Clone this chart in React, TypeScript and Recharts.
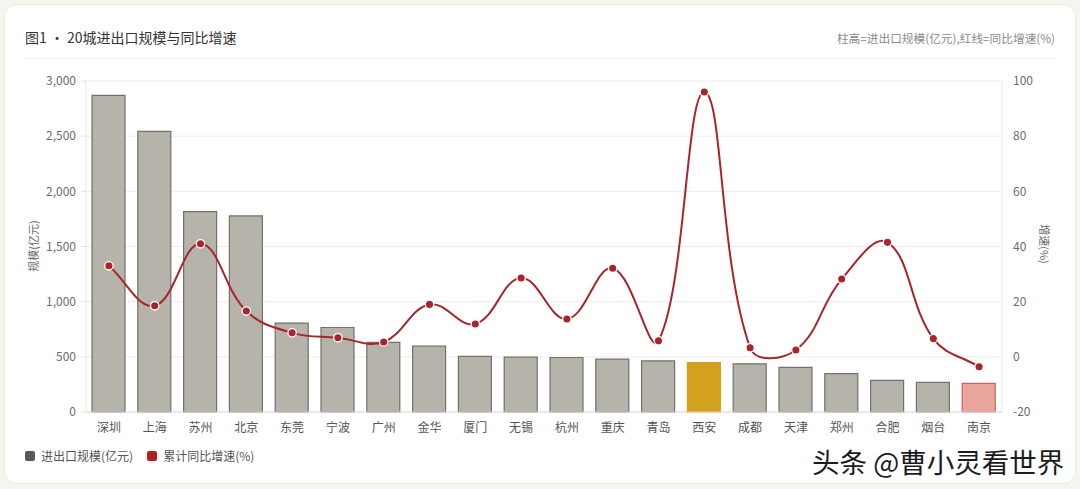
import React from "react";
import { Bar, Cell, ComposedChart, CartesianGrid, Line, XAxis, YAxis } from "recharts";

const cities = ["深圳", "上海", "苏州", "北京", "东莞", "宁波", "广州", "金华", "厦门", "无锡", "杭州", "重庆", "青岛", "西安", "成都", "天津", "郑州", "合肥", "烟台", "南京"];
const scaleValues = [2870, 2543, 1816, 1777, 806, 766, 631, 597, 505, 497, 494, 479, 463, 448, 437, 404, 347, 287, 269, 260];
const growthValues = [33.0, 18.5, 41.0, 16.6, 8.7, 6.9, 5.4, 19.0, 11.9, 28.6, 13.7, 32.1, 5.8, 96.0, 3.3, 2.5, 28.2, 41.5, 6.6, -3.6];
const leftTicks = [0, 500, 1000, 1500, 2000, 2500, 3000];
const rightTicks = [-20, 0, 20, 40, 60, 80, 100];

const data = cities.map((city, i) => ({ city, scale: scaleValues[i], growth: growthValues[i] }));

const FONT = '"Noto Sans CJK SC", "Noto Sans", sans-serif';
const LINE_RED = "#a8262b";

// distance-weighted spline (tension 0.4), control points split by segment length
function weightedSpline(context: any) {
  let pts: [number, number][] = [];
  const t = 0.4;
  return {
    areaStart() {},
    areaEnd() {},
    lineStart() {
      pts = [];
    },
    point(x: number, y: number) {
      pts.push([+x, +y]);
    },
    lineEnd() {
      const n = pts.length;
      if (!n) return;
      const cpIn: [number, number][] = [];
      const cpOut: [number, number][] = [];
      for (let i = 0; i < n; i++) {
        const p = pts[i];
        const prev = pts[i - 1] ?? p;
        const next = pts[i + 1] ?? p;
        const d01 = Math.hypot(p[0] - prev[0], p[1] - prev[1]);
        const d12 = Math.hypot(next[0] - p[0], next[1] - p[1]);
        const sum = d01 + d12 || 1;
        const fa = (t * d01) / sum;
        const fb = (t * d12) / sum;
        const vx = next[0] - prev[0];
        const vy = next[1] - prev[1];
        cpIn.push([p[0] - fa * vx, p[1] - fa * vy]);
        cpOut.push([p[0] + fb * vx, p[1] + fb * vy]);
      }
      context.moveTo(pts[0][0], pts[0][1]);
      for (let i = 0; i < n - 1; i++) {
        context.bezierCurveTo(cpOut[i][0], cpOut[i][1], cpIn[i + 1][0], cpIn[i + 1][1], pts[i + 1][0], pts[i + 1][1]);
      }
    },
  };
}

function barFill(city: string) {
  if (city === "西安") return "#d4a11e";
  if (city === "南京") return "#e9a69f";
  return "#b6b3ab";
}

function barStroke(city: string) {
  if (city === "西安") return "#d4a11e";
  if (city === "南京") return "#d0605a";
  return "#74716b";
}

function GrowthDot(props: any) {
  const { cx, cy } = props;
  if (cx == null || cy == null) return null;
  return <circle cx={cx} cy={cy} r={4.2} fill={LINE_RED} stroke="#fff" strokeWidth={1.3} />;
}

export default function App() {
  const tickStyle = { fill: "#6b6b6b", fontSize: 12, fontFamily: FONT };
  return (
    <div style={{ position: "absolute", left: 0, top: 0, width: 1080, height: 489, background: "#f6f5f0", fontFamily: FONT }}>
      <div style={{ position: "absolute", left: 4, top: 4, width: 1070, height: 478, background: "#fff", border: "1px solid #ebe8e0", borderRadius: 12 }} />
      <div style={{ position: "absolute", left: 25, top: 27, fontSize: 14, color: "#333" }}>图1 · 20城进出口规模与同比增速</div>
      <div style={{ position: "absolute", right: 25, top: 29, fontSize: 11.7, color: "#8a8a8a" }}>柱高=进出口规模(亿元),红线=同比增速(%)</div>
      <div style={{ position: "absolute", left: 25, top: 58, width: 1030, height: 1, background: "#f0efea" }} />

      <div style={{ position: "absolute", left: 0, top: 0 }}>
        <ComposedChart width={1080} height={489} data={data} margin={{ top: 81, right: 0, bottom: 47, left: 0 }} barSize={33}>
          <CartesianGrid yAxisId="left" vertical={false} stroke="#ececec" />
          <XAxis
            dataKey="city"
            height={30}
            tick={{ ...tickStyle, fill: "#555" }}
            tickLine={false}
            tickSize={6}
            tickMargin={5}
            axisLine={{ stroke: "#dcdcdc" }}
            interval={0}
          />
          <YAxis
            yAxisId="left"
            width={86}
            domain={[0, 3000]}
            ticks={leftTicks}
            tick={tickStyle}
            tickFormatter={(v) => Number(v).toLocaleString("en-US")}
            tickSize={5}
            tickMargin={5}
            tickLine={{ stroke: "#e2e2e2" }}
            axisLine={{ stroke: "#e6e6e6" }}
          />
          <YAxis
            yAxisId="right"
            orientation="right"
            width={78}
            domain={[-20, 100]}
            ticks={rightTicks}
            tick={tickStyle}
            tickSize={5}
            tickMargin={6}
            tickLine={false}
            axisLine={{ stroke: "#e6e6e6" }}
          />
          <Bar yAxisId="left" dataKey="scale" isAnimationActive={false} strokeWidth={1.2}>
            {data.map((d) => (
              <Cell key={d.city} fill={barFill(d.city)} stroke={barStroke(d.city)} />
            ))}
          </Bar>
          <Line
            yAxisId="right"
            dataKey="growth"
            type={weightedSpline as any}
            stroke={LINE_RED}
            strokeWidth={2}
            dot={<GrowthDot />}
            activeDot={false}
            isAnimationActive={false}
          />
        </ComposedChart>
      </div>

      <div style={{ position: "absolute", left: 33, top: 246, transform: "translate(-50%, -50%) rotate(-90deg)", fontSize: 11, color: "#666", whiteSpace: "nowrap" }}>规模(亿元)</div>
      <div style={{ position: "absolute", left: 1045, top: 244, transform: "translate(-50%, -50%) rotate(90deg)", fontSize: 11, color: "#666", whiteSpace: "nowrap" }}>增速(%)</div>

      <div style={{ position: "absolute", left: 25, top: 447, display: "flex", alignItems: "center", fontSize: 12, color: "#555" }}>
        <span style={{ width: 10, height: 10, background: "#5a5852", borderRadius: 2, marginRight: 6 }} />
        <span style={{ marginRight: 14 }}>进出口规模(亿元)</span>
        <span style={{ width: 10, height: 10, background: "#b11f24", borderRadius: 2, marginRight: 6 }} />
        <span>累计同比增速(%)</span>
      </div>

      <div
        style={{
          position: "absolute",
          left: 812,
          top: 441,
          fontSize: 27.5,
          color: "#1c1c1c",
          whiteSpace: "nowrap",
          textShadow: "1px 1px 0 #fff, -1px -1px 0 #fff, 1px -1px 0 #fff, -1px 1px 0 #fff",
        }}
      >
        头条 @曹小灵看世界
      </div>
    </div>
  );
}
